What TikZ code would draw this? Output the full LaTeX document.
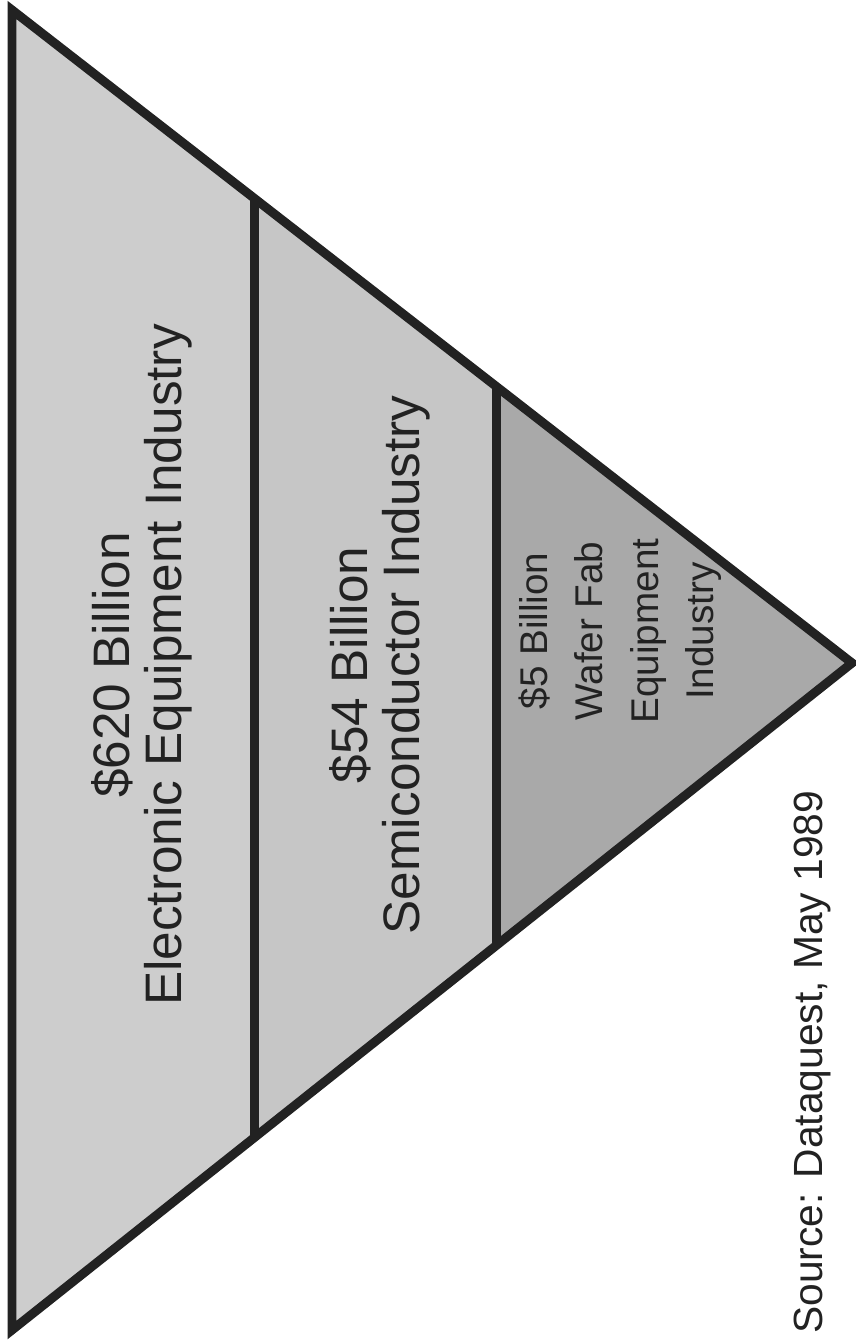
\documentclass[tikz,border=0pt]{standalone}
\usepackage{fontspec}
\setmainfont{Liberation Sans}
\usetikzlibrary{calc}
\definecolor{ink}{HTML}{222222}
\definecolor{bandA}{HTML}{CDCDCD}
\definecolor{bandB}{HTML}{C6C6C6}
\definecolor{bandC}{HTML}{A9A9A9}
\tikzset{
  edge/.style={draw=ink,line width=6.4pt,line join=miter},
  biglbl/.style={rotate=90,align=center,text=ink,font=\fontsize{36.5}{37}\selectfont},
  smalllbl/.style={rotate=90,align=center,text=ink,font=\fontsize{27.5}{39.5}\selectfont},
}

\begin{document}
\begin{tikzpicture}
  \useasboundingbox (0,0) rectangle (21.4,33.525);
  % corners of the triangle and the two cuts
  \coordinate (top) at (0.3,33.275);
  \coordinate (bot) at (0.3,0.275);
  \coordinate (tip) at (21.3,16.95);
  \coordinate (a1) at ($(top)!0.289!(tip)$);
  \coordinate (b1) at ($(bot)!0.289!(tip)$);
  \coordinate (a2) at ($(top)!0.577!(tip)$);
  \coordinate (b2) at ($(bot)!0.577!(tip)$);
  \fill[bandA] (top) -- (a1) -- (b1) -- (bot) -- cycle;
  \fill[bandB] (a1) -- (a2) -- (b2) -- (b1) -- cycle;
  \fill[bandC] (a2) -- (tip) -- (b2) -- cycle;
  \draw[edge] (a1) -- (b1);
  \draw[edge] (a2) -- (b2);
  \draw[edge] (top) -- (tip) -- (bot) -- cycle;
  \node[biglbl] (elec) at (3.55,16.9) {\$620 Billion\\Electronic Equipment Industry};
  \node[biglbl] (semi) at (9.5,16.9) {\$54 Billion\\Semiconductor Industry};
  \node[smalllbl] (wafer) at (15.5,17.75) {\$5 Billion\\Wafer Fab\\Equipment\\Industry};
  \node[rotate=90,text=ink,font=\fontsize{29}{34}\selectfont] (src) at (20.3,6.97) {Source: Dataquest, May 1989};
\end{tikzpicture}
\end{document}
